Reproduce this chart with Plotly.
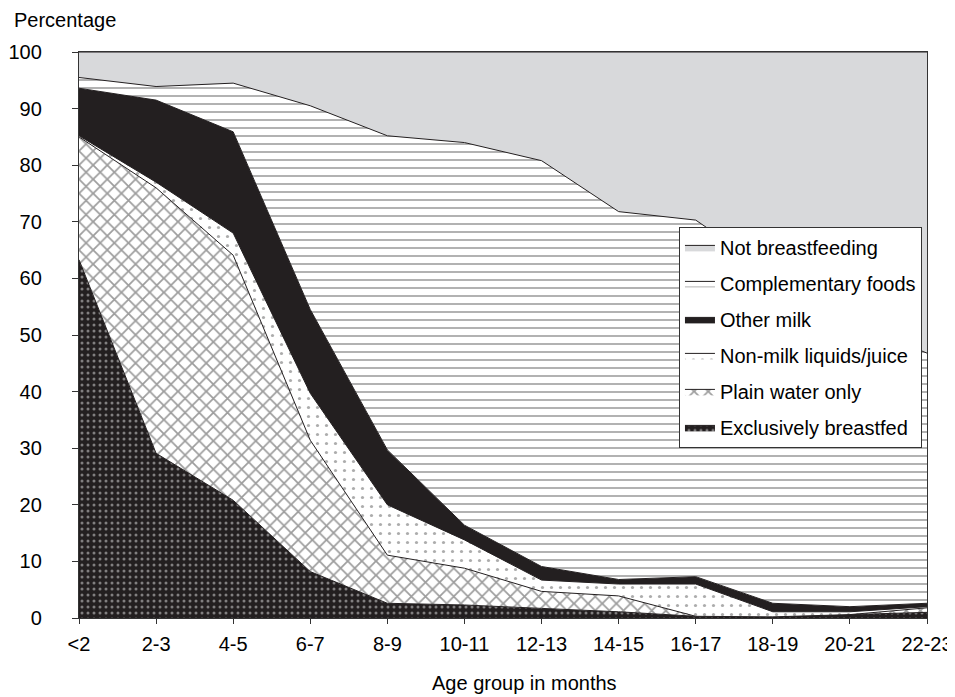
import plotly.graph_objects as go

ages = ["<2", "2-3", "4-5", "6-7", "8-9", "10-11", "12-13", "14-15", "16-17", "18-19", "20-21", "22-23"]

exclusively_bf = [63.3, 29.1, 20.8, 8.2, 2.6, 2.3, 1.7, 1.1, 0.3, 0.2, 0.6, 1.0]
plain_water = [21.7, 46.9, 43.3, 23.2, 8.5, 6.5, 3.0, 2.8, 0.0, 0.0, 0.0, 0.8]
non_milk = [0.2, 1.0, 3.9, 8.3, 8.9, 5.0, 2.0, 2.1, 5.7, 0.9, 0.5, 0.2]
other_milk = [8.4, 14.5, 17.9, 14.8, 9.7, 2.6, 2.4, 0.8, 1.3, 1.5, 0.9, 0.6]
complementary = [1.9, 2.4, 8.6, 36.0, 55.5, 67.6, 71.7, 65.0, 63.0, 58.4, 50.4, 44.2]
not_bf = [4.5, 6.1, 5.5, 9.5, 14.8, 16.0, 19.2, 28.2, 29.7, 39.0, 47.6, 53.2]

DARK = "#231f20"
GRAY = "#d8d9db"
FONT = "Liberation Sans, Arial, sans-serif"

series = [
    ("Exclusively breastfed", exclusively_bf, DARK,
     dict(shape=".", bgcolor=DARK, fgcolor="#e0e0e0", size=6, solidity=0.2)),
    ("Plain water only", plain_water, "white",
     dict(shape="x", bgcolor="white", fgcolor="#3c3c3c", size=10, solidity=0.32)),
    ("Non-milk liquids/juice", non_milk, "white",
     dict(shape=".", bgcolor="white", fgcolor="#5a5a5a", size=9, solidity=0.1)),
    ("Other milk", other_milk, DARK, None),
    ("Complementary foods", complementary, "white",
     dict(shape="-", bgcolor="white", fgcolor="#666666", size=8, solidity=0.25)),
    ("Not breastfeeding", not_bf, GRAY, None),
]

fig = go.Figure()
n = len(series)
for i, (name, vals, color, pat) in enumerate(series):
    kw = dict(
        x=ages, y=vals, name=name, mode="lines",
        stackgroup="one", legendgroup=f"g{i}", legendrank=100 * (n - i),
        line=dict(color=DARK, width=1), fillcolor=color,
    )
    if pat:
        kw["fillpattern"] = pat
    fig.add_trace(go.Scatter(**kw))

# page body has an 8px margin, so the figure is shifted by 8px right/down
fig.update_layout(
    width=947, height=689,
    margin=dict(l=71, r=28, t=44, b=79),
    plot_bgcolor="white", paper_bgcolor="white",
    font=dict(family=FONT, size=20, color="black"),
    showlegend=True,
    legend=dict(
        x=0.7075, y=0.691, xanchor="left", yanchor="top",
        bgcolor="white", bordercolor="#333333", borderwidth=1,
        traceorder="grouped", tracegroupgap=7,
        font=dict(family=FONT, size=20, color="black"),
        itemwidth=30,
    ),
    xaxis=dict(
        type="category", range=[0, 11], automargin=False,
        showline=True, linecolor="#333333", linewidth=1.3, mirror=True,
        ticks="outside", ticklen=5, tickcolor="#333333",
        showgrid=False, zeroline=False,
        tickfont=dict(family=FONT, size=20, color="black"),
        ticklabelstandoff=3,
    ),
    yaxis=dict(
        range=[0, 100], dtick=10, automargin=False,
        showline=True, linecolor="#333333", linewidth=1.3, mirror=True,
        ticks="outside", ticklen=6, tickcolor="#333333",
        showgrid=False, zeroline=False,
        tickfont=dict(family=FONT, size=20, color="black"),
        ticklabelstandoff=26,
    ),
    annotations=[
        dict(text="Percentage", xref="paper", yref="paper",
             x=(12 - 79) / 848, y=(618 - 20) / 566,
             xanchor="left", yanchor="middle", showarrow=False,
             font=dict(family=FONT, size=20, color="black")),
        dict(text="Age group in months", xref="paper", yref="paper",
             x=(524 - 79) / 848, y=(618 - 683) / 566,
             xanchor="center", yanchor="middle", showarrow=False,
             font=dict(family=FONT, size=20, color="black")),
    ],
)

fig.write_html("out.html")
